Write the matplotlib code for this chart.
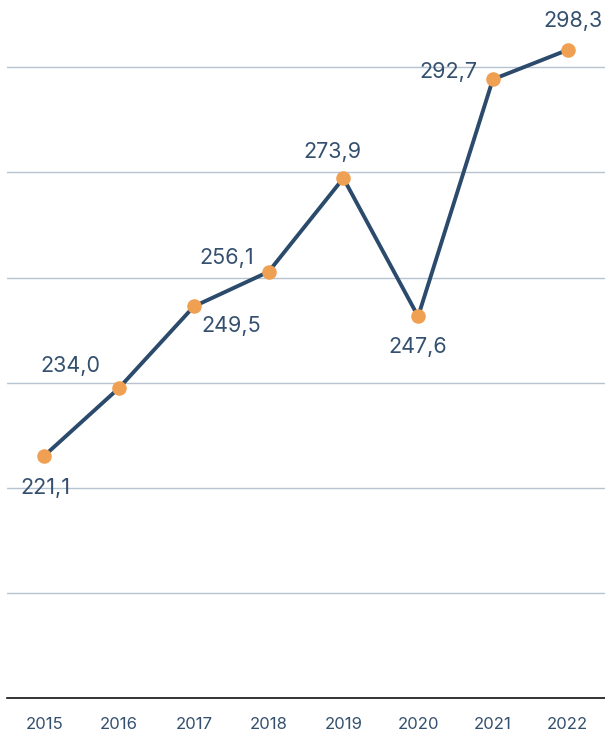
import matplotlib
matplotlib.use("Agg")
import matplotlib.pyplot as plt

# data
years = ["2015", "2016", "2017", "2018", "2019", "2020", "2021", "2022"]
values = [221.1, 234.0, 249.5, 256.1, 273.9, 247.6, 292.7, 298.3]
labels = ["221,1", "234,0", "249,5", "256,1", "273,9", "247,6", "292,7", "298,3"]
# label offsets in points (dx, dy)
offsets = [(1, -23), (-35, 16), (27, -14), (-30, 10), (-8, 19), (0, -22), (-32, 5), (4, 21)]

line_col = "#2b4a6c"
dot_col = "#f0a052"
txt_col = "#34506e"
grid_col = "#b7c4cf"

plt.rcParams["font.family"] = ["Inter", "DejaVu Sans"]

fig = plt.figure(figsize=(6.05, 7.33), dpi=100)
ax = fig.add_axes([7 / 605, 35 / 733, 598 / 605, 698 / 733])

x = list(range(len(years)))
ax.plot(x, values, color=line_col, lw=2.8, zorder=3)
ax.scatter(x, values, s=110, color=dot_col, zorder=4, linewidths=0)

for xi, v, lab, (dx, dy) in zip(x, values, labels, offsets):
    ax.annotate(lab, (xi, v), xytext=(dx, dy), textcoords="offset points",
                ha="center", va="center", fontsize=15.5, color=txt_col)

ax.set_xlim(-0.5, 7.5)
ax.set_ylim(175, 307.8)
ax.set_yticks([195, 215, 235, 255, 275, 295])
ax.yaxis.grid(True, color=grid_col, lw=1)
ax.set_axisbelow(True)
ax.tick_params(axis="y", length=0, labelleft=False)
ax.set_xticks(x)
ax.set_xticklabels(years)
ax.tick_params(axis="x", length=0, pad=13.5, labelsize=12, labelcolor=txt_col)

for s in ["top", "right", "left"]:
    ax.spines[s].set_visible(False)
ax.spines["bottom"].set_color("#111111")
ax.spines["bottom"].set_linewidth(1.2)

fig.savefig("out.png", dpi=100)
